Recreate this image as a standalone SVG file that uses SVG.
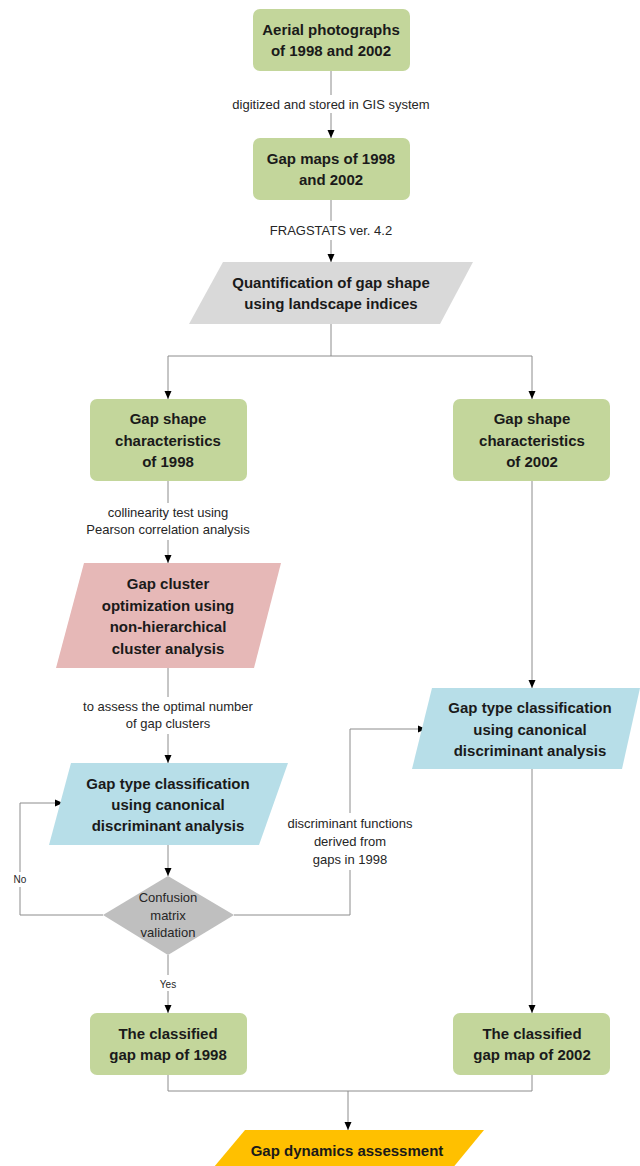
<svg xmlns="http://www.w3.org/2000/svg" width="640" height="1166" viewBox="0 0 640 1166">
<style>
.box{fill:#C3D69B}
.nt{font-family:"Liberation Sans",Arial,sans-serif;font-weight:bold;font-size:15px;fill:#1a1a1a;text-anchor:middle}
.lt{font-family:"Liberation Sans",Arial,sans-serif;font-size:13px;fill:#262626;text-anchor:middle}
.st{font-family:"Liberation Sans",Arial,sans-serif;font-size:10px;fill:#262626;text-anchor:middle}
.ln{fill:none;stroke:#8c8c8c;stroke-width:1}
.ar{fill:none;stroke:#8c8c8c;stroke-width:1;marker-end:url(#ah)}
</style>
<defs>
<marker id="ah" markerWidth="8" markerHeight="8" refX="8" refY="4" orient="auto" markerUnits="userSpaceOnUse">
<path d="M0,0.5 L8,4 L0,7.5 z" fill="#000"/>
</marker>
</defs>
<rect width="640" height="1166" fill="#fff"/>
<g id="connectors">
<line class="ln" x1="331" y1="71" x2="331" y2="95"/>
<line class="ar" x1="331" y1="113" x2="331" y2="138"/>
<line class="ln" x1="331" y1="200" x2="331" y2="221"/>
<line class="ar" x1="331" y1="240" x2="331" y2="262"/>
<polyline class="ln" points="331,324 331,356 168,356"/>
<line class="ln" x1="331" y1="356" x2="532" y2="356"/>
<line class="ar" x1="168" y1="356" x2="168" y2="399"/>
<line class="ar" x1="532" y1="356" x2="532" y2="399"/>
<line class="ln" x1="168" y1="481" x2="168" y2="503"/>
<line class="ar" x1="168" y1="540" x2="168" y2="563"/>
<line class="ln" x1="168" y1="668" x2="168" y2="697"/>
<line class="ar" x1="168" y1="734" x2="168" y2="763"/>
<line class="ar" x1="168" y1="845" x2="168" y2="876"/>
<line class="ln" x1="168" y1="955" x2="168" y2="975"/>
<line class="ar" x1="168" y1="991" x2="168" y2="1013"/>
<polyline class="ln" points="103,915 20,915 20,887"/>
<polyline class="ar" points="20,872 20,803 63,803"/>
<polyline class="ln" points="234,915 350,915 350,870"/>
<polyline class="ar" points="350,813 350,729 426,729"/>
<line class="ar" x1="532" y1="481" x2="532" y2="688"/>
<line class="ar" x1="532" y1="769" x2="532" y2="1013"/>
<polyline class="ln" points="168,1075 168,1091 532,1091 532,1075"/>
<line class="ar" x1="348" y1="1091" x2="348" y2="1130"/>
<text class="lt" x="331" y="108.5">digitized and stored in GIS system</text>
<text class="lt" x="331" y="234.5">FRAGSTATS ver. 4.2</text>
<text class="lt" x="168" y="517">collinearity test using</text>
<text class="lt" x="168" y="534">Pearson correlation analysis</text>
<text class="lt" x="168" y="711">to assess the optimal number</text>
<text class="lt" x="168" y="728">of gap clusters</text>
<text class="lt" x="350" y="828">discriminant functions</text>
<text class="lt" x="350" y="846">derived from</text>
<text class="lt" x="350" y="864">gaps in 1998</text>
<text class="st" x="20" y="883">No</text>
<text class="st" x="168" y="987.5">Yes</text>
</g>
<g id="n1">
<rect class="box" x="253" y="9" width="157" height="62" rx="7"/>
<text class="nt" x="331" y="35">Aerial photographs</text>
<text class="nt" x="331" y="56">of 1998 and 2002</text>
</g>
<g id="n2">
<rect class="box" x="253" y="138" width="157" height="62" rx="7"/>
<text class="nt" x="331" y="164">Gap maps of 1998</text>
<text class="nt" x="331" y="185">and 2002</text>
</g>
<g id="n3">
<polygon points="223,262 473,262 440,324 189,324" fill="#D9D9D9"/>
<text class="nt" x="331" y="288">Quantification of gap shape</text>
<text class="nt" x="331" y="309">using landscape indices</text>
</g>
<g id="n4">
<rect class="box" x="90" y="399" width="157" height="82" rx="7"/>
<text class="nt" x="168" y="424">Gap shape</text>
<text class="nt" x="168" y="445.5">characteristics</text>
<text class="nt" x="168" y="467">of 1998</text>
</g>
<g id="n5">
<rect class="box" x="453" y="399" width="157" height="82" rx="7"/>
<text class="nt" x="532" y="424">Gap shape</text>
<text class="nt" x="532" y="445.5">characteristics</text>
<text class="nt" x="532" y="467">of 2002</text>
</g>
<g id="n6">
<polygon points="84,563 281,563 254,668 56,668" fill="#E6B8B7"/>
<text class="nt" x="168" y="588.5">Gap cluster</text>
<text class="nt" x="168" y="610.5">optimization using</text>
<text class="nt" x="168" y="631.5">non-hierarchical</text>
<text class="nt" x="168" y="653.5">cluster analysis</text>
</g>
<g id="n7">
<polygon points="71,763 288,763 259,845 49,845" fill="#B7DEE8"/>
<text class="nt" x="168" y="788.5">Gap type classification</text>
<text class="nt" x="168" y="809.5">using canonical</text>
<text class="nt" x="168" y="830.5">discriminant analysis</text>
</g>
<g id="n8">
<polygon points="432,688 640,688 622,769 412,769" fill="#B7DEE8"/>
<text class="nt" x="530" y="712.5">Gap type classification</text>
<text class="nt" x="530" y="734.5">using canonical</text>
<text class="nt" x="530" y="755.5">discriminant analysis</text>
</g>
<g id="n9">
<polygon points="168,876 234,915 168,955 103,915" fill="#BFBFBF"/>
<text class="lt" x="168" y="902">Confusion</text>
<text class="lt" x="168" y="920">matrix</text>
<text class="lt" x="168" y="937">validation</text>
</g>
<g id="n10">
<rect class="box" x="90" y="1013" width="157" height="62" rx="7"/>
<text class="nt" x="168" y="1039">The classified</text>
<text class="nt" x="168" y="1060">gap map of 1998</text>
</g>
<g id="n11">
<rect class="box" x="453" y="1013" width="157" height="62" rx="7"/>
<text class="nt" x="532" y="1039">The classified</text>
<text class="nt" x="532" y="1060">gap map of 2002</text>
</g>
<g id="n12">
<polygon points="245,1130 484,1130 433,1192 193,1192" fill="#FFC000"/>
<text class="nt" x="347" y="1155.5">Gap dynamics assessment</text>
</g>
</svg>
